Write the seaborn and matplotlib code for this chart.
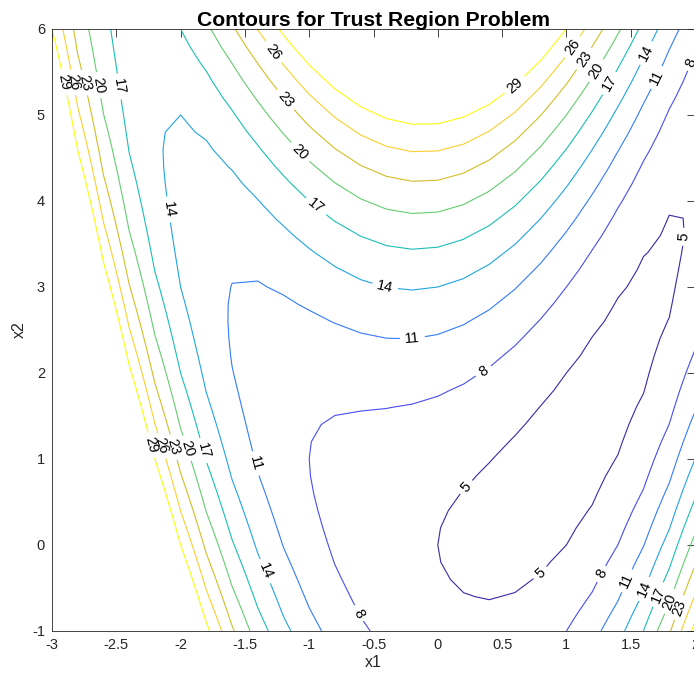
import numpy as np
import matplotlib
matplotlib.use("Agg")
import matplotlib.pyplot as plt
import seaborn as sns

# ---- data -------------------------------------------------------------
# sampling grid used for the contour plot (step 0.2 in both directions)
x1_grid = np.linspace(-3.0, 2.0, 26)
x2_grid = np.linspace(-1.0, 6.0, 36)

# objective of the trust region problem:
#   f(x) = (x2 - x1^2)^2 + (1 - x1)^2 + 4
coef_valley = 1.0
coef_linear = 1.0
offset = 4.0

levels = [5, 8, 11, 14, 17, 20, 23, 26, 29]
level_colors = ['#3e26a8', '#484df0', '#327cfc', '#20a5e3', '#19bfb6',
                '#64cd6f', '#d1bf27', '#fccf30', '#f9fb15']

x_ticks = [-3, -2.5, -2, -1.5, -1, -0.5, 0, 0.5, 1, 1.5, 2]
x_tick_labels = ['-3', '-2.5', '-2', '-1.5', '-1', '-0.5', '0', '0.5', '1', '1.5', '2']
y_ticks = [-1, 0, 1, 2, 3, 4, 5, 6]
y_tick_labels = ['-1', '0', '1', '2', '3', '4', '5', '6']

# approximate spots where the inline level labels sit
label_spots = [
    (-2.90, 5.38), (-2.84, 5.38), (-2.76, 5.37), (-2.63, 5.35), (-2.48, 5.33),
    (-1.28, 5.73), (-1.19, 5.17), (-1.07, 4.57), (-0.94, 3.95),
    (0.61, 5.33), (1.06, 5.78), (1.15, 5.64), (1.25, 5.50), (1.33, 5.37),
    (1.62, 5.72), (1.71, 5.43), (1.99, 5.60),
    (-2.10, 3.90), (-0.41, 3.00), (-0.20, 2.42), (0.36, 2.01), (1.93, 3.58),
    (-2.23, 1.16), (-2.15, 1.15), (-2.05, 1.14), (-1.94, 1.13), (-1.82, 1.10),
    (-1.41, 0.95), (-1.35, -0.31), (-0.61, -0.79),
    (0.23, 0.66), (0.80, -0.33),
    (1.29, -0.35), (1.49, -0.43), (1.62, -0.52), (1.72, -0.58), (1.81, -0.66),
    (1.88, -0.73),
]

# ---- figure -----------------------------------------------------------
sns.set_theme(style="white")
plt.rcParams['font.family'] = ['Liberation Sans', 'DejaVu Sans']
plt.rcParams['axes.unicode_minus'] = False

X1, X2 = np.meshgrid(x1_grid, x2_grid)
F = coef_valley * (X2 - X1 ** 2) ** 2 + coef_linear * (1 - X1) ** 2 + offset

fig = plt.figure(figsize=(6.94, 6.76), dpi=100)
fig.patch.set_facecolor('white')
ax = fig.add_axes([52 / 694, 45 / 676, 643 / 694, 602 / 676])
ax.set_facecolor('white')

cs = ax.contour(X1, X2, F, levels=levels, colors=level_colors, linewidths=0.8)
ax.clabel(cs, levels=levels, manual=label_spots, inline=True, inline_spacing=5,
          fontsize=10.5, colors='black', fmt='%d')

ax.set_xlim(-3, 2)
ax.set_ylim(-1, 6)
ax.set_xticks(x_ticks)
ax.set_xticklabels(x_tick_labels)
ax.set_yticks(y_ticks)
ax.set_yticklabels(y_tick_labels)

axis_color = '#262626'
ax.tick_params(direction='in', length=6, width=0.6, top=True, right=True,
               colors=axis_color, labelsize=10.5, pad=5)
for sp in ax.spines.values():
    sp.set_visible(True)
    sp.set_color(axis_color)
    sp.set_linewidth(0.6)

ax.set_xlabel('x1', fontsize=11.5, color=axis_color, labelpad=2)
ax.set_ylabel('x2', fontsize=11.5, color=axis_color, labelpad=4)
ax.set_title('Contours for Trust Region Problem', fontsize=15.2,
             fontweight='bold', color='black', pad=2)
ax.grid(False)

fig.savefig('out.png', dpi=100, facecolor='white')
